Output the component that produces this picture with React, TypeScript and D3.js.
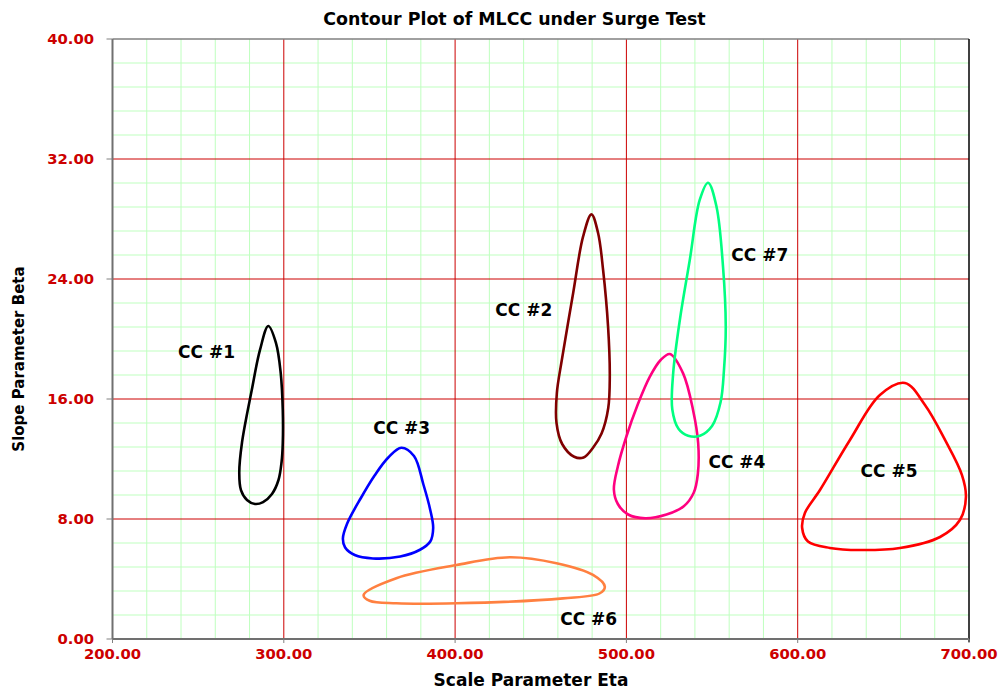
import React from "react";
import * as d3 from "d3";

const W = 998;
const H = 692;

const X_DOMAIN: [number, number] = [200, 700];
const Y_DOMAIN: [number, number] = [0, 40];
const X_MAJOR = [200, 300, 400, 500, 600, 700];
const Y_MAJOR = [0, 8, 16, 24, 32, 40];
const X_MINOR = d3.range(200, 701, 20);
const Y_MINOR = d3.range(0, 40.01, 1.6);

const TITLE = "Contour Plot of MLCC under Surge Test";
const X_LABEL = "Scale Parameter Eta";
const Y_LABEL = "Slope Parameter Beta";

type Pt = [number, number];

const CC1: Pt[] = [
  [290.95, 20.87], [295.45, 19.73], [298.2, 17.73], [299.4, 15.27], [299.4, 13.07],
  [298.7, 11.8], [296.9, 10.6], [293.1, 9.67], [287.9, 9.13], [283.2, 9.0],
  [278.5, 9.27], [275.0, 9.93], [274.0, 11.07], [275.6, 13.1],
  [281.3, 16.6], [286.1, 19.27],
];
const CC2: Pt[] = [
  [479.6, 28.31], [483.5, 27.05], [486.4, 24.6], [489.3, 20.82], [490.3, 17.49],
  [489.4, 15.4], [485.5, 13.7], [480.5, 12.75], [475.0, 12.1], [469.5, 12.15],
  [462.5, 13.0], [459.2, 14.4], [459.4, 16.4], [462.3, 18.6],
  [468.9, 23.05], [474.7, 26.82],
];
const CC3: Pt[] = [
  [368.6, 12.75], [376.0, 12.2], [381.5, 10.3], [385.5, 8.6], [387.2, 7.4],
  [385.5, 6.5], [379.5, 5.95], [368.0, 5.5], [352.0, 5.37], [341.4, 5.6],
  [335.8, 6.1], [334.5, 6.7], [337.0, 7.7], [345.0, 9.4], [353.0, 10.9], [361.0, 12.1],
];
const CC4: Pt[] = [
  [525.4, 19.0], [533.1, 17.71], [538.9, 15.27], [541.9, 13.05], [541.7, 11.0],
  [539.3, 9.75], [533.5, 8.85], [523.4, 8.3], [511.0, 8.05], [501.0, 8.3],
  [495.0, 9.0], [492.7, 9.95], [495.0, 11.5], [500.0, 13.5], [506.5, 15.6],
  [513.7, 17.49], [520.0, 18.6],
];
const CC5: Pt[] = [
  [662.6, 17.07], [674.3, 15.6], [686.0, 13.27], [695.9, 10.93], [698.2, 9.47],
  [694.7, 7.93], [683.1, 6.8], [659.7, 6.07], [636.3, 5.93], [618.8, 6.07],
  [606.0, 6.5], [602.6, 7.4], [604.2, 8.4], [613.0, 9.93], [630.5, 13.27], [648.0, 16.27],
];
const CC6: Pt[] = [
  [346.6, 2.93], [365.7, 4.05], [400.8, 4.93], [431.9, 5.45], [459.2, 5.05],
  [480.5, 4.27], [487.4, 3.49], [484.5, 3.05], [463.0, 2.71], [400.8, 2.38],
  [365.7, 2.38], [350.1, 2.55],
];
const CC7: Pt[] = [
  [547.7, 30.42], [552.6, 28.82], [556.4, 24.82], [558.0, 20.82], [557.0, 18.0],
  [555.0, 15.8], [550.0, 14.2], [543.0, 13.55], [536.0, 13.55], [530.5, 14.0],
  [526.8, 15.3], [527.3, 17.71], [531.2, 21.27], [537.0, 25.27], [542.8, 29.27],
];

const SERIES_NAMES = ["CC #1", "CC #2", "CC #3", "CC #4", "CC #5", "CC #6", "CC #7"];
const SERIES_DATA = [CC1, CC2, CC3, CC4, CC5, CC6, CC7];
const SERIES_COLORS = ["#000000", "#800000", "#0000FF", "#FF0080", "#FF0000", "#FF8040", "#00FF80"];
const LABEL_POS: Pt[] = [
  [254.9, 19.13], [440.1, 21.93], [368.8, 14.07], [564.5, 11.8], [653.3, 11.2], [478.0, 1.33], [577.9, 25.6],
];

const FONT = "'DejaVu Sans', Verdana, sans-serif";
const TICK_RED = "#CC0000";

export default function App() {
  const x = d3.scaleLinear().domain(X_DOMAIN).range([112.5, 969]);
  const y = d3.scaleLinear().domain(Y_DOMAIN).range([639, 39]);
  const line = d3
    .line<Pt>()
    .x((d) => x(d[0]))
    .y((d) => y(d[1]))
    .curve(d3.curveCatmullRomClosed.alpha(0.5));

  const [x0, x1] = x.range();
  const [y0, y1] = y.range();

  return (
    <svg
      width={W}
      height={H}
      style={{ position: "absolute", left: 0, top: 0, background: "#fff" }}
      fontFamily={FONT}
    >
      <rect x={0} y={0} width={W} height={H} fill="#fff" />
      {X_MINOR.filter((v) => v % 100 !== 0).map((v) => (
        <line key={"xm" + v} x1={x(v)} x2={x(v)} y1={y1} y2={y0} stroke="#BFFFBF" strokeWidth={1} />
      ))}
      {Y_MINOR.filter((v) => Math.abs(v / 8 - Math.round(v / 8)) > 1e-6).map((v) => (
        <line key={"ym" + v} x1={x0} x2={x1} y1={y(v)} y2={y(v)} stroke="#BFFFBF" strokeWidth={1} />
      ))}
      {X_MAJOR.slice(1, -1).map((v) => (
        <line key={"xM" + v} x1={x(v)} x2={x(v)} y1={y1} y2={y0} stroke={TICK_RED} strokeWidth={1} />
      ))}
      {Y_MAJOR.slice(1, -1).map((v) => (
        <line key={"yM" + v} x1={x0} x2={x1} y1={y(v)} y2={y(v)} stroke={TICK_RED} strokeWidth={1} />
      ))}
      <line x1={x0} x2={x1} y1={y1} y2={y1} stroke="#808080" strokeWidth={1.5} />
      <line x1={x1} x2={x1} y1={y1} y2={y0 + 3} stroke="#000" strokeWidth={1.5} />
      <line x1={x0} x2={x0} y1={y1} y2={y0} stroke="#707070" strokeWidth={2} />
      <line x1={x0} x2={x1} y1={y0} y2={y0} stroke="#707070" strokeWidth={2} />
      {Y_MAJOR.map((v) => (
        <line key={"yt" + v} x1={x0 - 6} x2={x0} y1={y(v)} y2={y(v)} stroke="#808080" strokeWidth={1} />
      ))}
      {X_MAJOR.map((v) => (
        <line key={"xt" + v} x1={x(v)} x2={x(v)} y1={y0} y2={y0 + 4} stroke="#808080" strokeWidth={1} />
      ))}
      {Y_MAJOR.map((v) => (
        <text key={"yl" + v} x={94} y={y(v)} dy="0.36em" textAnchor="end" fontSize={14.8} fontWeight="bold" fill={TICK_RED}>
          {v.toFixed(2)}
        </text>
      ))}
      {X_MAJOR.map((v) => (
        <text key={"xl" + v} x={x(v)} y={659} textAnchor="middle" fontSize={14.8} fontWeight="bold" fill={TICK_RED}>
          {v.toFixed(2)}
        </text>
      ))}
      {SERIES_DATA.map((d, i) => (
        <path key={"c" + i} d={line(d) || ""} fill="none" stroke={SERIES_COLORS[i]} strokeWidth={2.6} />
      ))}
      {SERIES_NAMES.map((n, i) => (
        <text
          key={"n" + i}
          x={x(LABEL_POS[i][0])}
          y={y(LABEL_POS[i][1])}
          dy="0.36em"
          textAnchor="middle"
          fontSize={17}
          fontWeight="bold"
          fill="#000"
        >
          {n}
        </text>
      ))}
      <text x={514.5} y={25} textAnchor="middle" fontSize={17.4} fontWeight="bold" fill="#000">
        {TITLE}
      </text>
      <text x={531} y={686} textAnchor="middle" fontSize={17} fontWeight="bold" fill="#000">
        {X_LABEL}
      </text>
      <text transform={`translate(24, 359) rotate(-90)`} textAnchor="middle" fontSize={15} fontWeight="bold" fill="#000">
        {Y_LABEL}
      </text>
    </svg>
  );
}
